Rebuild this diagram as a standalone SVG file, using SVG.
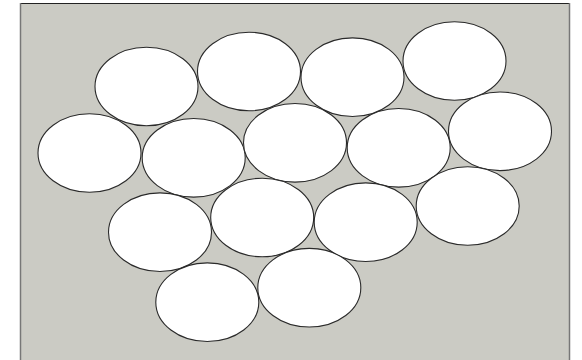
<svg xmlns="http://www.w3.org/2000/svg" width="582" height="360" viewBox="0 0 582 360">
<style>
.bg{fill:#cbcbc4;}
.e{fill:#ffffff;stroke:#2a2a2a;stroke-width:1.1;}
</style>
<rect x="0" y="0" width="582" height="360" fill="#ffffff"/>
<rect class="bg" x="20" y="3" width="550" height="360"/>
<line x1="20" y1="3.5" x2="570" y2="3.5" stroke="#222" stroke-width="1"/>
<line x1="20.5" y1="3" x2="20.5" y2="360" stroke="#777" stroke-width="1.5"/>
<line x1="569.5" y1="3" x2="569.5" y2="360" stroke="#777" stroke-width="1.5"/>
<g id="nodes">
<g id="n1"><ellipse class="e" cx="146.5" cy="86.5" rx="51.5" ry="39.3"/></g>
<g id="n2"><ellipse class="e" cx="249" cy="71.5" rx="51.5" ry="39.3"/></g>
<g id="n3"><ellipse class="e" cx="352.5" cy="77.2" rx="51.5" ry="39.3"/></g>
<g id="n4"><ellipse class="e" cx="454.5" cy="61" rx="51.5" ry="39.3"/></g>
<g id="n5"><ellipse class="e" cx="89.5" cy="153" rx="51.5" ry="39.3"/></g>
<g id="n6"><ellipse class="e" cx="193.7" cy="157.8" rx="51.5" ry="39.3"/></g>
<g id="n7"><ellipse class="e" cx="295" cy="142.8" rx="51.5" ry="39.3"/></g>
<g id="n8"><ellipse class="e" cx="398.7" cy="147.8" rx="51.5" ry="39.3"/></g>
<g id="n9"><ellipse class="e" cx="500" cy="131.3" rx="51.5" ry="39.3"/></g>
<g id="n10"><ellipse class="e" cx="160" cy="232.2" rx="51.5" ry="39.3"/></g>
<g id="n11"><ellipse class="e" cx="262.2" cy="217.5" rx="51.5" ry="39.3"/></g>
<g id="n12"><ellipse class="e" cx="365.7" cy="222.2" rx="51.5" ry="39.3"/></g>
<g id="n13"><ellipse class="e" cx="467.7" cy="206" rx="51.5" ry="39.3"/></g>
<g id="n14"><ellipse class="e" cx="207.3" cy="302.2" rx="51.5" ry="39.3"/></g>
<g id="n15"><ellipse class="e" cx="309.3" cy="287.7" rx="51.5" ry="39.3"/></g>
</g>
<g id="connectors"></g>
</svg>
